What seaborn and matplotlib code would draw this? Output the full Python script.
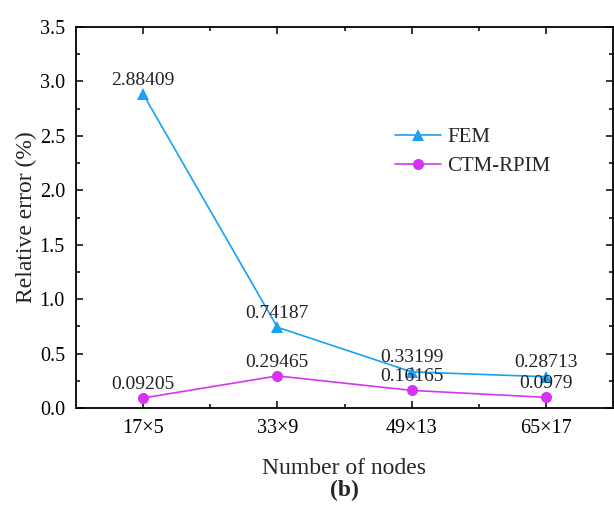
import matplotlib
matplotlib.use("Agg")
import matplotlib.pyplot as plt
import seaborn as sns
import pandas as pd
import numpy as np
from matplotlib.ticker import MultipleLocator, FixedLocator, FormatStrFormatter

categories = ["17×5", "33×9", "49×13", "65×17"]
fem = [2.88409, 0.74187, 0.33199, 0.28713]
ctm = [0.09205, 0.29465, 0.16165, 0.0979]
fem_labels = ["2.88409", "0.74187", "0.33199", "0.28713"]
ctm_labels = ["0.09205", "0.29465", "0.16165", "0.0979"]

sns.set_style("ticks")
plt.rcParams['font.family'] = ['Liberation Serif', 'DejaVu Serif']
plt.rcParams['mathtext.fontset'] = 'stix'

fig = plt.figure(figsize=(6.14, 5.07), dpi=100)
ax = fig.add_axes([76/614, 1-408/507, 537/614, 381/507])

pos = np.arange(len(categories))
df = pd.DataFrame({"x": np.concatenate([pos, pos]),
                   "y": fem + ctm,
                   "Method": ["FEM"] * 4 + ["CTM-RPIM"] * 4})

blue = "#1AA0F5"
mag = "#D535F0"
sns.lineplot(data=df, x="x", y="y", hue="Method", style="Method",
             markers={"FEM": "^", "CTM-RPIM": "o"}, dashes=False,
             palette={"FEM": blue, "CTM-RPIM": mag},
             markersize=8, markeredgewidth=0, linewidth=1.2, ax=ax)

for xi, yi, lab in zip(pos, fem, fem_labels):
    ax.annotate(lab, (xi, yi), xytext=(0, 10), textcoords="offset points",
                ha="center", va="center", fontsize=14, color="#222222")
for xi, yi, lab in zip(pos, ctm, ctm_labels):
    ax.annotate(lab, (xi, yi), xytext=(0, 10), textcoords="offset points",
                ha="center", va="center", fontsize=14, color="#222222")

ax.set_xlim(-0.5, 3.5)
ax.set_ylim(0, 3.5)
ax.set_xticks(pos)
ax.set_xticklabels(categories)
ax.xaxis.set_minor_locator(FixedLocator([0.5, 1.5, 2.5]))
ax.yaxis.set_major_locator(MultipleLocator(0.5))
ax.yaxis.set_minor_locator(MultipleLocator(0.25))
ax.yaxis.set_major_formatter(FormatStrFormatter("%.1f"))
ax.tick_params(which="both", direction="in", top=True, right=True, colors="black",
               labelsize=14.5, width=1.1)
ax.tick_params(which="major", length=5, pad=8)
ax.tick_params(which="minor", length=3)
for s in ax.spines.values():
    s.set_linewidth(1.3)
    s.set_color("black")

ax.set_xlabel("Number of nodes", fontsize=17, labelpad=14)
ax.set_ylabel("Relative error (%)", fontsize=17, labelpad=2)

leg = ax.legend(loc="upper left", bbox_to_anchor=(0.559, 0.785), frameon=False,
                fontsize=15, handlelength=2.2, handletextpad=0.3, labelspacing=0.45,
                title=None)

fig.text(344/614, 1-490/507, "(b)", ha="center", va="center", fontsize=17,
         fontweight="bold")

fig.savefig("out.png", dpi=100)
